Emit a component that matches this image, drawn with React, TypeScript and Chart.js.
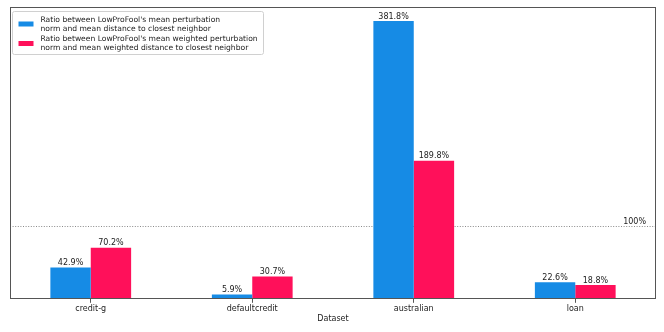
import React, { useEffect, useRef } from "react";
import { Chart, registerables } from "chart.js";

Chart.register(...registerables);

const categories = ["credit-g", "defaultcredit", "australian", "loan"];
const meanRatio = [42.9, 5.9, 381.8, 22.6];
const weightedRatio = [70.2, 30.7, 189.8, 18.8];
const seriesLabels = [
  ["Ratio between LowProFool's mean perturbation", "norm and mean distance to closest neighbor"],
  ["Ratio between LowProFool's mean weighted perturbation", "norm and mean weighted distance to closest neighbor"],
];
const seriesColors = ["#168be5", "#ff105a"];
const referenceValue = 100;
const referenceLabel = "100%";
const xTitle = "Dataset";
const yMax = 401;

const FONT = "'DejaVu Sans', sans-serif";

const framePlugin = {
  id: "frame",
  beforeDatasetsDraw(chart: any) {
    const { ctx, chartArea, scales } = chart;
    const y = Math.round(scales.y.getPixelForValue(referenceValue)) + 0.5;
    ctx.save();
    ctx.strokeStyle = "#8a8a8a";
    ctx.lineWidth = 1;
    ctx.setLineDash([1, 1.6]);
    ctx.beginPath();
    ctx.moveTo(chartArea.left, y);
    ctx.lineTo(chartArea.right, y);
    ctx.stroke();
    ctx.setLineDash([]);
    ctx.fillStyle = "#222";
    ctx.font = `8px ${FONT}`;
    ctx.textAlign = "right";
    ctx.textBaseline = "alphabetic";
    ctx.fillText(referenceLabel, chartArea.right - 10, y - 3);
    ctx.restore();
  },
  afterDatasetsDraw(chart: any) {
    const { ctx, chartArea } = chart;
    ctx.save();
    // value labels
    ctx.font = `8px ${FONT}`;
    ctx.fillStyle = "#222";
    ctx.textAlign = "center";
    ctx.textBaseline = "bottom";
    chart.data.datasets.forEach((ds: any, di: number) => {
      const meta = chart.getDatasetMeta(di);
      meta.data.forEach((el: any, i: number) => {
        ctx.fillText(ds.data[i].toFixed(1) + "%", el.x, el.y - 0.5);
      });
    });
    // frame
    ctx.strokeStyle = "#555";
    ctx.lineWidth = 1;
    ctx.strokeRect(
      Math.round(chartArea.left) + 0.5,
      Math.round(chartArea.top) + 0.5,
      Math.round(chartArea.right - chartArea.left) - 1,
      Math.round(chartArea.bottom - chartArea.top) - 1
    );
    // legend
    const bx = chartArea.left + 2.5;
    const by = chartArea.top + 4.5;
    const bw = 251;
    const bh = 43;
    ctx.fillStyle = "rgba(255,255,255,0.85)";
    ctx.strokeStyle = "#d0d0d0";
    ctx.beginPath();
    if ((ctx as any).roundRect) (ctx as any).roundRect(bx, by, bw, bh, 2);
    else ctx.rect(bx, by, bw, bh);
    ctx.fill();
    ctx.stroke();
    ctx.font = `7.6px ${FONT}`;
    ctx.textAlign = "left";
    ctx.textBaseline = "middle";
    seriesLabels.forEach((lines, i) => {
      const rowTop = by + 6 + i * 19.5;
      ctx.fillStyle = seriesColors[i];
      ctx.fillRect(bx + 6, rowTop + 4, 15, 5);
      ctx.fillStyle = "#222";
      lines.forEach((t, j) => {
        ctx.fillText(t, bx + 28, rowTop + 2.5 + j * 9);
      });
    });
    ctx.restore();
  },
};

export default function App() {
  const ref = useRef<HTMLCanvasElement | null>(null);
  useEffect(() => {
    document.body.style.margin = "0";
    const canvas = ref.current!;
    const chart = new Chart(canvas, {
      type: "bar",
      data: {
        labels: categories,
        datasets: [
          { label: seriesLabels[0].join(" "), data: meanRatio, backgroundColor: seriesColors[0] },
          { label: seriesLabels[1].join(" "), data: weightedRatio, backgroundColor: seriesColors[1] },
        ],
      },
      options: {
        animation: false,
        responsive: false,
        devicePixelRatio: 1,
        layout: { padding: { left: 10, right: 8, top: 7, bottom: 8 } },
        datasets: { bar: { categoryPercentage: 0.5, barPercentage: 1.0 } },
        plugins: { legend: { display: false }, tooltip: { enabled: false } },
        scales: {
          x: {
            offset: true,
            border: { display: false },
            grid: { display: true, offset: false, drawOnChartArea: false, drawTicks: true, tickLength: 4, tickColor: "#555" },
            ticks: { padding: 1, color: "#222", font: { family: FONT, size: 8 } },
            title: { display: true, text: xTitle, color: "#222", padding: { top: 0, bottom: 0 }, font: { family: FONT, size: 8 } },
          },
          y: { display: false, min: 0, max: yMax },
        },
      },
      plugins: [framePlugin],
    });
    return () => chart.destroy();
  }, []);
  return (
    <div style={{ width: 664, height: 332 }}>
      <canvas ref={ref} width={664} height={332} />
    </div>
  );
}
